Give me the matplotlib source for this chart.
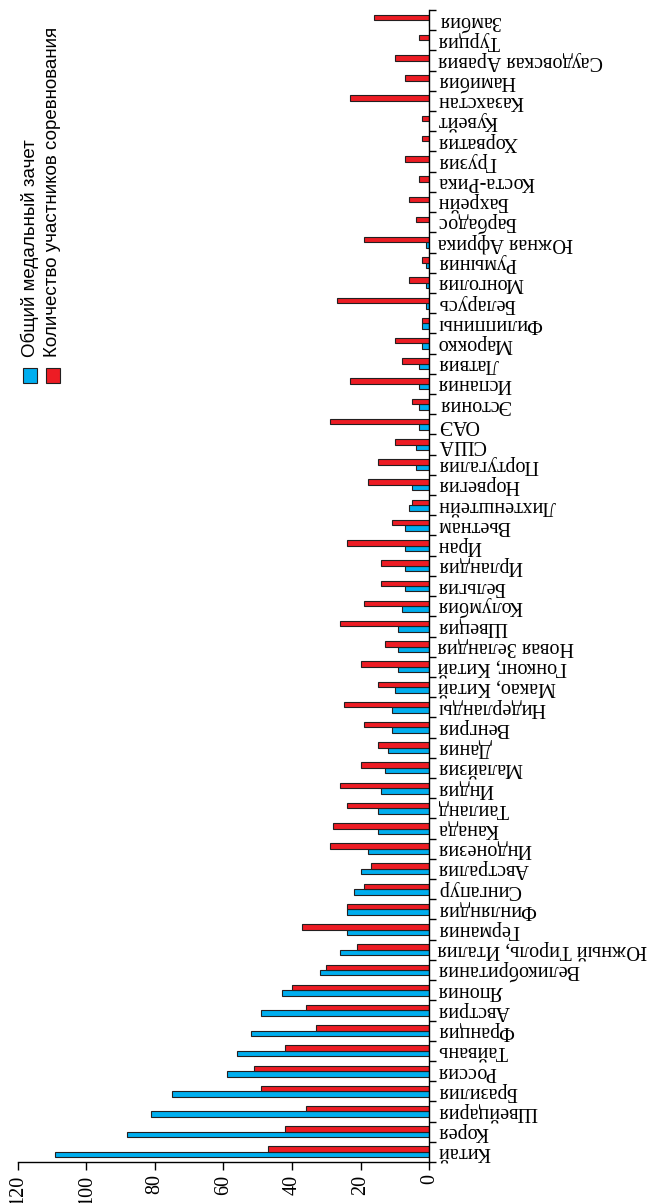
import numpy as np
import matplotlib
matplotlib.use("Agg")
import matplotlib.pyplot as plt
from matplotlib.patches import Rectangle

# countries from bottom (China) to top (Zambia)
countries = [
    "Китай", "Корея", "Швейцария", "Бразилия", "Россия", "Тайвань", "Франция",
    "Австрия", "Япония", "Великобритания", "Южный Тироль, Италия", "Германия",
    "Финляндия", "Сингапур", "Австралия", "Индонезия", "Канада", "Таиланд",
    "Индия", "Малайзия", "Дания", "Венгрия", "Нидерланды", "Макао, Китай",
    "Гонконг, Китай", "Новая Зеландия", "Швеция", "Колумбия", "Бельгия",
    "Ирландия", "Иран", "Вьетнам", "Лихтенштейн", "Норвегия", "Португалия",
    "США", "ОАЭ", "Эстония", "Испания", "Латвия", "Марокко", "Филиппины",
    "Беларусь", "Монголия", "Румыния", "Южная Африка", "Барбадос", "Бахрейн",
    "Коста-Рика", "Грузия", "Хорватия", "Кувейт", "Казахстан", "Намибия",
    "Саудовская Аравия", "Турция", "Замбия",
]
medals = [
    109, 88, 81, 75, 59, 56, 52, 49, 43, 32, 26, 24, 24, 22, 20, 18, 15, 15,
    14, 13, 12, 11, 11, 10, 9, 9, 9, 8, 7, 7, 7, 7, 6, 5, 4, 4, 3, 3, 3, 3,
    2, 2, 1, 1, 1, 1, 0, 0, 0, 0, 0, 0, 0, 0, 0, 0, 0,
]
participants = [
    47, 42, 36, 49, 51, 42, 33, 36, 40, 30, 21, 37, 24, 19, 17, 29, 28, 24,
    26, 20, 15, 19, 25, 15, 20, 13, 26, 19, 14, 14, 24, 11, 5, 18, 15, 10,
    29, 5, 23, 8, 10, 2, 27, 6, 2, 19, 4, 6, 3, 7, 2, 2, 23, 7, 10, 3, 16,
]
legend_labels = ["Общий медальный зачет", "Количество участников соревнования"]
value_ticks = [0, 20, 40, 60, 80, 100, 120]

blue = "#00aeef"
red = "#ed1c24"
edge = "#231f20"

W, H = 654, 1203
fig = plt.figure(figsize=(W / 100, H / 100), dpi=100)
ax = fig.add_axes([17.7 / W, 1 - 1162 / H, (429.3 - 17.7) / W, (1162 - 10) / H])

y = np.arange(len(countries))
h = 0.27
ax.barh(y - h / 2, medals, height=h, color=blue, edgecolor=edge, linewidth=0.8)
ax.barh(y + h / 2, participants, height=h, color=red, edgecolor=edge, linewidth=0.8)

ax.set_xlim(120, 0)
ax.set_ylim(-0.5, len(countries) - 0.5)

for s in ["top", "left"]:
    ax.spines[s].set_visible(False)
ax.spines["right"].set_linewidth(1.0)
ax.spines["bottom"].set_linewidth(1.0)

serif = ["Liberation Serif", "DejaVu Serif"]
ax.yaxis.tick_right()
ax.set_yticks(y)
ax.set_yticklabels(countries, rotation=180, ha="left", va="center",
                   family=serif, fontsize=14.5)
ax.set_yticks(np.arange(len(countries) + 1) - 0.5, minor=True)
ax.tick_params(axis="y", which="major", length=0, pad=6)
ax.tick_params(axis="y", which="minor", length=5, width=1.0, direction="out")

ax.set_xticks(value_ticks)
ax.set_xticklabels([str(v) for v in value_ticks], rotation=90, family=serif,
                   fontsize=14.5, va="top")
ax.tick_params(axis="x", length=6, width=1.0, direction="out", pad=3)

# legend drawn rotated like the rest of the figure
sans = ["Liberation Sans", "DejaVu Sans"]
for cx, col, lab in [(30, blue, legend_labels[0]), (53, red, legend_labels[1])]:
    fig.patches.append(Rectangle(((cx - 7) / W, 1 - 383 / H), 14 / W, 15 / H,
                                 transform=fig.transFigure, facecolor=col,
                                 edgecolor=edge, linewidth=0.8))
    fig.text(cx / W, 1 - 357 / H, lab, rotation=90, ha="center", va="bottom",
             family=sans, fontsize=13.5)

fig.savefig("out.png", dpi=100)
